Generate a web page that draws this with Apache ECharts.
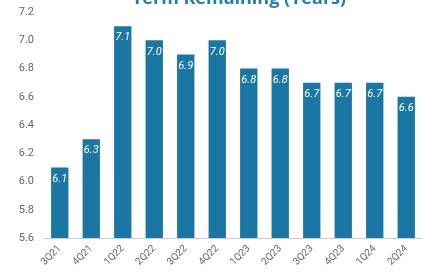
<!DOCTYPE html>
<html>
<head>
    <meta charset="utf-8"/>
    <title></title>
    <script src="https://cdn.jsdelivr.net/npm/echarts@6/dist/echarts.min.js"></script>
    <style>
        html, body { margin: 0; padding: 0; background: #fff; }
        #main { width: 422px; height: 280px; }
    </style>
</head>
<body>
<div id="main"></div>
<script type="text/javascript">
    /* data */
    var quarters = ['3Q21', '4Q21', '1Q22', '2Q22', '3Q22', '4Q22', '1Q23', '2Q23', '3Q23', '4Q23', '1Q24', '2Q24'];
    var termYears = [6.1, 6.3, 7.1, 7.0, 6.9, 7.0, 6.8, 6.8, 6.7, 6.7, 6.7, 6.6];

    var chart = echarts.init(document.getElementById('main'));

    var option = {
        animation: false,
        title: {
            text: 'Term Remaining (Years)',
            left: 234,
            textAlign: 'center',
            top: -15,
            textStyle: {color: '#1f7db4', fontSize: 18, fontWeight: 'bold', fontFamily: 'Open Sans'}
        },
        grid: {left: 44, right: -2, top: 12, bottom: 42},
        xAxis: {
            type: 'category',
            data: quarters,
            axisTick: {show: false},
            axisLine: {lineStyle: {color: '#cccccc'}},
            axisLabel: {rotate: 45, color: '#666', fontSize: 10, fontFamily: 'Roboto', margin: 9}
        },
        yAxis: {
            type: 'value',
            min: 5.6,
            max: 7.2,
            interval: 0.2,
            splitLine: {show: false},
            axisLabel: {
                color: '#666', fontSize: 11, fontFamily: 'Roboto', margin: 10,
                formatter: function (v) { return v.toFixed(1); }
            }
        },
        series: [{
            type: 'bar',
            data: termYears,
            barWidth: '55%',
            itemStyle: {color: '#1a76a2'},
            label: {
                show: true,
                position: 'insideTop',
                distance: 6,
                color: '#fff',
                fontStyle: 'italic',
                fontSize: 11,
                fontFamily: 'Roboto',
                formatter: function (p) { return p.value.toFixed(1); }
            }
        }]
    };

    chart.setOption(option);
    window.onresize = chart.resize;
</script>
</body>
</html>
